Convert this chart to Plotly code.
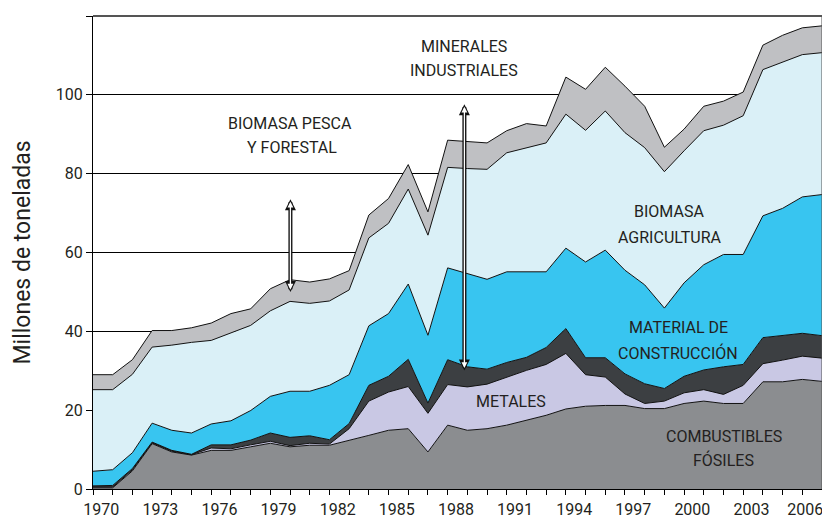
import plotly.graph_objects as go

years = list(range(1970, 2008))

combustibles_fosiles = [0.3, 0.3, 4.6, 11.5, 9.4, 8.6, 9.8, 9.8, 10.7, 11.6, 10.7, 11.1, 11.1, 12.3,
                        13.6, 14.9, 15.3, 9.4, 16.2, 14.9, 15.3, 16.2, 17.4, 18.7, 20.3, 21.0, 21.2,
                        21.2, 20.4, 20.4, 21.7, 22.3, 21.7, 21.7, 27.2, 27.2, 27.8, 27.3]
metales = [0.2, 0.2, 0.3, 0.2, 0.2, 0.1, 0.6, 0.4, 0.5, 0.5, 0.3, 0.5, 0.3, 3.0,
           8.7, 9.7, 10.7, 9.8, 10.3, 11.0, 11.3, 12.2, 12.7, 12.9, 14.1, 8.0, 7.2,
           2.9, 1.3, 1.9, 2.7, 2.9, 2.3, 4.6, 4.6, 5.5, 5.9, 5.9]
minerales_industriales = [0.3, 0.4, 0.3, 0.2, 0.2, 0.1, 0.8, 1.0, 1.2, 2.1, 2.1, 1.9, 1.1, 1.3,
                          4.0, 4.0, 6.9, 2.6, 6.3, 5.1, 3.8, 3.7, 3.3, 4.3, 6.3, 4.3, 4.9,
                          5.1, 5.0, 3.2, 4.2, 5.0, 7.0, 5.3, 6.6, 6.2, 5.8, 5.7]
material_construccion = [3.7, 4.0, 4.0, 4.8, 5.1, 5.4, 5.3, 6.1, 7.5, 9.3, 11.7, 11.3, 13.8, 12.4,
                         15.1, 15.9, 19.1, 17.2, 23.3, 23.6, 22.8, 23.0, 21.7, 19.2, 20.4, 24.3, 27.3,
                         26.3, 25.1, 20.4, 23.7, 26.7, 28.5, 27.9, 30.9, 32.3, 34.6, 35.8]
biomasa_agricultura = [20.7, 20.3, 19.9, 19.3, 21.6, 23.0, 21.2, 22.2, 21.6, 21.7, 22.8, 22.3, 21.4, 21.5,
                       22.3, 22.9, 24.1, 25.4, 25.5, 26.7, 27.9, 30.2, 31.5, 32.7, 34.0, 33.4, 35.3,
                       34.9, 34.8, 34.6, 33.5, 34.0, 32.8, 35.2, 37.1, 37.1, 36.1, 36.0]
biomasa_pesca_forestal = [3.8, 3.8, 3.7, 4.2, 3.7, 3.7, 4.4, 5.0, 4.2, 5.6, 5.5, 5.4, 5.6, 4.9,
                          5.8, 6.3, 6.2, 5.9, 6.9, 6.8, 6.7, 5.6, 6.1, 4.3, 9.4, 10.4, 11.1,
                          11.8, 10.5, 6.2, 5.5, 6.2, 6.1, 6.0, 6.2, 6.8, 6.8, 6.8]

tick_years = [1970, 1973, 1976, 1979, 1982, 1985, 1988, 1991, 1994, 1997, 2000, 2003, 2006]
tick_labels = [str(y) for y in tick_years]
y_ticks = [0, 20, 40, 60, 80, 100, 120]

series = [
    ("Combustibles fósiles", combustibles_fosiles, "#8b8d90"),
    ("Metales", metales, "#c9c8e4"),
    ("Minerales industriales", minerales_industriales, "#3c3f42"),
    ("Material de construcción", material_construccion, "#38c5f0"),
    ("Biomasa agricultura", biomasa_agricultura, "#daf0f7"),
    ("Biomasa pesca y forestal", biomasa_pesca_forestal, "#bfc0c3"),
]

FONT = "Roboto"
TXT = "#231f20"

ML, MT, PW, PH = 85, 8, 729, 473

fig = go.Figure()
for name, vals, col in series:
    fig.add_trace(go.Scatter(
        x=years, y=vals, name=name, mode="lines", stackgroup="one",
        line=dict(color="#111111", width=1), fillcolor=col, hoverinfo="skip",
    ))

fig.update_layout(
    width=830, height=526,
    margin=dict(l=ML, r=830 - ML - PW, t=MT, b=526 - MT - PH),
    paper_bgcolor="white", plot_bgcolor="white",
    showlegend=False,
    font=dict(family=FONT, size=16, color=TXT),
)

# labels sit between year ticks; the last one is nudged left to stay inside the frame
label_pos = [y + 0.42 for y in tick_years[:-1]] + [tick_years[-1] + 0.15]

fig.update_xaxes(
    range=[1970, 2007],
    tickmode="array", tickvals=label_pos, ticktext=tick_labels,
    ticks="outside", ticklen=6, tickcolor="rgba(0,0,0,0)",
    showline=True, linecolor="black", linewidth=1.3,
    showgrid=False, zeroline=False,
    tickfont=dict(family=FONT, size=16, color=TXT),
    minor=dict(tickmode="array", tickvals=years, ticks="outside", ticklen=5,
               tickcolor="black", tickwidth=1, showgrid=False),
)
fig.update_yaxes(
    range=[0, 120], tickmode="array", tickvals=y_ticks,
    ticks="outside", ticklen=6, tickcolor="black",
    showline=True, linecolor="black", linewidth=1.3,
    showgrid=True, gridcolor="black", gridwidth=1, zeroline=False,
    tickfont=dict(family=FONT, size=16, color=TXT),
)

# frame: top and right
fig.add_shape(type="line", xref="paper", yref="paper", x0=0, x1=1, y0=1, y1=1,
              line=dict(color="#555555", width=2), layer="above")
fig.add_shape(type="line", xref="paper", yref="paper", x0=1, x1=1, y0=0, y1=1,
              line=dict(color="#555555", width=1), layer="above")

# y-axis title
fig.add_annotation(text="Millones de toneladas", xref="paper", yref="paper",
                   x=(14 - ML) / PW, y=0.5, xanchor="center", yanchor="middle",
                   showarrow=False, textangle=-90,
                   font=dict(family=FONT, size=23, color=TXT))

labels = [
    ("BIOMASA PESCA", 1980.0, 92.8), ("Y FORESTAL", 1980.1, 86.7),
    ("MINERALES", 1988.82, 112.2), ("INDUSTRIALES", 1988.82, 106.1),
    ("BIOMASA", 1999.23, 70.3), ("AGRICULTURA", 1999.3, 63.8),
    ("MATERIAL DE", 1999.71, 41.0), ("CONSTRUCCIÓN", 1999.71, 34.5),
    ("METALES", 1991.21, 22.1),
    ("COMBUSTIBLES", 2002.05, 13.4), ("FÓSILES", 2002.0, 7.3),
]
for t, x, y in labels:
    fig.add_annotation(text=t, x=x, y=y, showarrow=False,
                       font=dict(family=FONT, size=16, color=TXT))

# double-outlined (hollow) arrows: black arrow, then a thinner white arrow inside it
arrows = [(1980.02, 73.5, 49.6), (1988.85, 97.6, 29.7)]
for x, ytop, ybot in arrows:
    fig.add_annotation(x=x, y=ytop, ax=x, ay=ybot, axref="x", ayref="y", text="",
                       showarrow=True, arrowhead=2, startarrowhead=2, arrowside="end+start",
                       arrowwidth=4, arrowsize=0.55, startarrowsize=0.55, arrowcolor="#111111",
                       standoff=0, startstandoff=0)
    fig.add_annotation(x=x, y=ytop - 0.6, ax=x, ay=ybot + 0.6, axref="x", ayref="y", text="",
                       showarrow=True, arrowhead=2, startarrowhead=2, arrowside="end+start",
                       arrowwidth=1.3, arrowsize=0.9, startarrowsize=0.9, arrowcolor="white",
                       standoff=0, startstandoff=0)

fig.write_html("out.html")
